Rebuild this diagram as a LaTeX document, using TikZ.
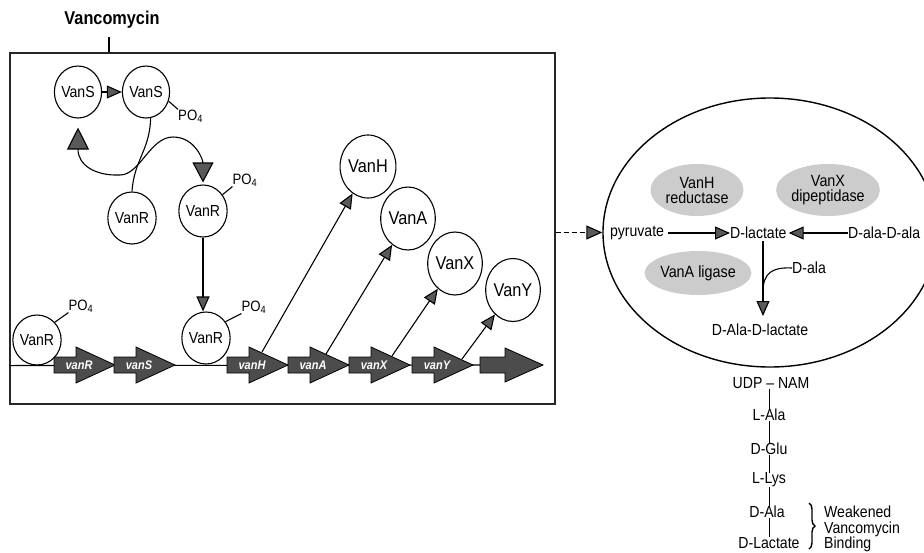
\documentclass[tikz,border=0pt]{standalone}
\usepackage{fontspec}
\setmainfont{Liberation Sans}[FakeStretch=0.88]
\usetikzlibrary{shapes.geometric,arrows.meta,decorations.pathreplacing}
\begin{document}
\begin{tikzpicture}[x=1pt,y=-1pt,
  every node/.style={inner sep=0pt, font=\fontsize{16}{16}\selectfont},
  prot/.style={draw, ellipse, line width=1.1pt, minimum width=41pt, minimum height=52pt, font=\fontsize{16}{16}\selectfont},
  bigprot/.style={draw, ellipse, line width=1.1pt, minimum width=50pt, minimum height=63pt, font=\fontsize{18.5}{18}\selectfont},
  enz/.style={ellipse, fill=black!20, minimum width=93pt, minimum height=52pt, align=center, font=\fontsize{16.3}{15}\selectfont},
  po/.style={font=\fontsize{15}{14}\selectfont},
  ln/.style={line width=1.1pt},
  gene/.style={fill=black!70, draw=black, line width=0.8pt},
  genelab/.style={text=white, font=\fontsize{12.5}{12}\selectfont\bfseries\itshape},
  tipS/.style={ln, -{Triangle[length=15pt,width=13pt,fill=black!65]}},
  tipB/.style={ln, {Triangle[length=22pt,width=22pt,fill=black!65]}-{Triangle[length=20pt,width=21pt,fill=black!65]}}
]
\useasboundingbox (0,0) rectangle (924,552);

% title and box
\node[font=\fontsize{18.5}{18}\selectfont\bfseries] (vanc) at (112,20) {Vancomycin};
\node[draw, line width=1.5pt, draw=black!85, minimum width=545pt, minimum height=351pt] (box) at (282.5,228.5) {};
\draw[ln] (109,37) -- (109,0 |- box.north);

% proteins (left)
\node[prot] (S1) at (78,92) {VanS};
\node[prot] (S2) at (146,92) {VanS};
\node[prot] (R1) at (132,218) {VanR};
\node[prot] (R2) at (203,211) {VanR};
\node[prot] (R3) at (206,338) {VanR};
\node[prot, minimum height=50pt] (R0) at (37,340) {VanR};

\node[po, anchor=west] (p1) at (178,116) {PO\textsubscript{4}};
\node[po] (p2) at (245,180) {PO\textsubscript{4}};
\node[po] (p3) at (254,307) {PO\textsubscript{4}};
\node[po] (p0) at (81,306) {PO\textsubscript{4}};
\draw[ln] (S2.-22) -- (p1.north west);
\draw[ln] (R2.40) -- (p2.south west);
\draw[ln] (R3.40) -- (p3.south west);
\draw[ln] (R0.45) -- (p0.south west);

\draw[tipS] (S1) -- (S2);
\draw[ln] (S2.-80) .. controls (150,150) and (134,160) .. (R1.north);
\draw[tipB] ([yshift=-9pt]S1.south) .. controls (78,165) and (95,176) .. (120,175)
   .. controls (140,175) and (150,137) .. (173,137)
   .. controls (195,137) and (203,160) .. ([yshift=2pt]R2.north);
\draw[tipS] (R2.south) -- (R2.south |- R3.north);

% DNA
\draw[ln] (box.west |- R0.south) -- (480,365);
\foreach \s/\n/\t in {54/gR/vanR,114/gS/vanS,227/gH/vanH,288/gA/vanA,349/gX/vanX,412/gY/vanY}{
  \filldraw[gene] (\s,357) -- (\s+22,357) -- (\s+22,347) -- (\s+61,365) -- (\s+22,383) -- (\s+22,373) -- (\s,373) -- cycle;
  \node[genelab] (\n) at (\s+25,365.5) {\t};
}
\filldraw[gene] (480,357) -- (505,357) -- (505,348) -- (543,365) -- (505,382) -- (505,373) -- (480,373) -- cycle;

% proteins (right)
\node[bigprot] (H) at (368,166.5) {VanH};
\node[bigprot] (A) at (408,218.5) {VanA};
\node[bigprot] (X) at (455,263.5) {VanX};
\node[bigprot] (Y) at (513,290) {VanY};
\coordinate (sH) at (262,352);
\coordinate (sA) at (326,354);
\coordinate (sX) at (392,356);
\coordinate (sY) at (462,359);
\draw[tipS] (sH) -- (H);
\draw[tipS] (sA) -- (A);
\draw[tipS] (sX) -- (X);
\draw[tipS] (sY) -- (Y);

% cell
\node[draw, ellipse, line width=1.4pt, minimum width=334pt, minimum height=269pt] (cell) at (770,232.5) {};
\draw[ln, dash pattern=on 5pt off 3pt, -{Triangle[length=16pt,width=14pt,fill=black!65]}] (box.east |- cell.west) -- (cell.west);

\node[enz] (eH) at (697,190) {VanH\\reductase};
\node[enz] (eX) at (828,190) {VanX\\dipeptidase};
\node[enz, minimum height=44pt] (eA) at (698,273) {VanA ligase};

\node (pyr) at (637,233) {pyruvate};
\node[anchor=west] (dlac) at (730,233) {D-lactate};
\node[anchor=west] (dd) at (848,233) {D-ala-D-ala};
\node (dad) at (760,330) {D-Ala-D-lactate};
\node[anchor=west] (dala) at (792,268) {D-ala};
\draw[tipS] ([xshift=4pt]pyr.east) -- (dlac.west);
\draw[tipS] (dd.west) -- ([xshift=2pt]dlac.east);
\coordinate (v1) at (763,241);
\coordinate (v2) at (763,316);
\draw[tipS] (v1) -- (v2);
\draw[ln] (dala.west) .. controls (772,267) and (763,273) .. (763,292);

% chain
\node (udp) at (771,383) {UDP -- NAM};
\node (la) at (769,415) {L-Ala};
\node (dg) at (769,449) {D-Glu};
\node (ll) at (769,480) {L-Lys};
\node (da) at (767,512) {D-Ala};
\node (dl) at (769,543) {D-Lactate};
\draw[line width=0.9pt] (la.north |- udp.south) -- ([yshift=-1pt]la.north);
\draw[line width=0.9pt] (dg.north |- la.south) -- (dg.north);
\draw[line width=0.9pt] (ll.north |- dg.south) -- (ll.north);
\draw[line width=0.9pt] (769,0 |- ll.south) -- (769,0 |- da.north);
\draw[line width=0.9pt] (769,0 |- da.south) -- (769,0 |- dl.north);
\draw[line width=1.4pt, decorate, decoration={brace, amplitude=6pt}] (809,503) -- (809,549);
\node[anchor=west, align=left, font=\fontsize{16}{15.5}\selectfont] (weak) at (824,529) {Weakened\\Vancomycin\\Binding};
\end{tikzpicture}
\end{document}
